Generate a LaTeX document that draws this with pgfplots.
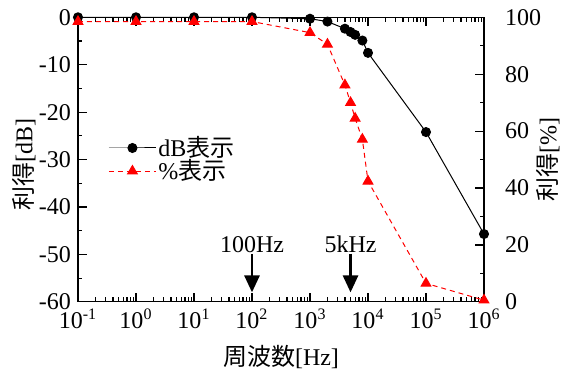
\documentclass[border=0pt]{standalone}
\usepackage{fontspec}
\setmainfont{Liberation Serif}
\newfontfamily\jp{Noto Sans CJK JP}
\usepackage{pgfplots}
\pgfplotsset{compat=1.18}
\usetikzlibrary{calc,arrows.meta}

\pgfplotstableread{
f     db
0.1   0
1     0
10    0
100   0
1000  -0.3
2000  -0.9
4000  -2.4
5000  -3.1
6000  -3.7
8000  -4.9
10000 -7.5
100000 -24.2
1000000 -45.7
}\dbdata

\pgfplotstableread{
f     pc
0.1   98.5
1     98.5
10    98.5
100   98.5
1000  94.6
2000  90.5
4000  76.2
5000  70.0
6000  64.5
8000  57.1
10000 42.4
100000 6.5
1000000 0.6
}\pcdata

\pgfplotsset{
  major tick length=4.5pt, minor tick length=2.2pt,
  tick style={draw=black, line width=0.6pt},
}

\begin{document}
\begin{tikzpicture}[font=\fontsize{12}{14}\selectfont]
\begin{axis}[
  scale only axis, width=203pt, height=142.3pt,
  xmode=log, xmin=0.1, xmax=1e6,
  ymin=-60, ymax=0,
  xtick pos=both, ytick pos=left,
  tick align=inside,
  axis line style={line width=0.6pt},
  /pgf/number format/assume math mode=true,
  xtick={0.1,1,10,100,1000,10000,100000,1000000},
  xticklabels={10\textsuperscript{-1},10\textsuperscript{0},10\textsuperscript{1},10\textsuperscript{2},10\textsuperscript{3},10\textsuperscript{4},10\textsuperscript{5},10\textsuperscript{6}},
  minor xtick={0.2,0.3,0.4,0.5,0.6,0.7,0.8,0.9,
    2,3,4,5,6,7,8,9,
    20,30,40,50,60,70,80,90,
    200,300,400,500,600,700,800,900,
    2000,3000,4000,5000,6000,7000,8000,9000,
    20000,30000,40000,50000,60000,70000,80000,90000,
    200000,300000,400000,500000,600000,700000,800000,900000},
  ytick={-60,-50,-40,-30,-20,-10,0},
  minor ytick={-55,-45,-35,-25,-15,-5},
  clip=false,
]
\pgfplotsinvokeforeach{1,10,100,1000,10000,100000}{
  \draw[line width=0.6pt] (axis cs:#1,-60) -- (axis cs:#1,-58.1);
  \draw[line width=0.6pt] (axis cs:#1,0) -- (axis cs:#1,-1.9);
}
\pgfplotsinvokeforeach{0.2,0.3,0.4,0.5,0.6,0.7,0.8,0.9,
    2,3,4,5,6,7,8,9,
    20,30,40,50,60,70,80,90,
    200,300,400,500,600,700,800,900,
    2000,3000,4000,5000,6000,7000,8000,9000,
    20000,30000,40000,50000,60000,70000,80000,90000,
    200000,300000,400000,500000,600000,700000,800000,900000}{
  \draw[line width=0.6pt] (axis cs:#1,-60) -- (axis cs:#1,-59.07);
  \draw[line width=0.6pt] (axis cs:#1,0) -- (axis cs:#1,-0.93);
}
\pgfplotsinvokeforeach{-50,-40,-30,-20,-10}{
  \draw[line width=0.6pt] (axis cs:0.1,#1) -- (axis cs:0.1429,#1);
}
\pgfplotsinvokeforeach{-55,-45,-35,-25,-15,-5}{
  \draw[line width=0.6pt] (axis cs:0.1,#1) -- (axis cs:0.1191,#1);
}
\pgfplotsinvokeforeach{-48,-36,-24,-12}{
  \draw[line width=0.6pt] (axis cs:1000000,#1) -- (axis cs:699800,#1);
}
\pgfplotsinvokeforeach{-54,-42,-30,-18,-6}{
  \draw[line width=0.6pt] (axis cs:1000000,#1) -- (axis cs:839600,#1);
}
\addplot[black, line width=0.5pt, mark=*, mark size=2.25pt] table[x=f,y=db] {\dbdata};
\coordinate (bl) at (rel axis cs:0,0);
\coordinate (tr) at (rel axis cs:1,1);
\draw[-{Triangle[length=8.5pt,width=7.5pt]}, line width=1.4pt] (axis cs:100,-49.9) -- (axis cs:100,-58.0);
\node[anchor=base] at (axis cs:100,-49.5) {100Hz};
\draw[-{Triangle[length=8.5pt,width=7.5pt]}, line width=1.4pt] (axis cs:5000,-49.9) -- (axis cs:5000,-58.0);
\node[anchor=base] at (axis cs:5000,-49.5) {5kHz};
\end{axis}
\begin{axis}[
  scale only axis, width=203pt, height=142.3pt,
  xmode=log, xmin=0.1, xmax=1e6,
  ymin=0, ymax=100,
  axis y line*=right,
  axis x line=none,
  tick align=inside,
  axis line style={line width=0.6pt},
  /pgf/number format/assume math mode=true,
  ytick={0,20,40,60,80,100},
  minor ytick={10,30,50,70,90},
  yticklabel style={xshift=7pt},
  legend style={draw=none, fill=none, at={(0.074,0.5)}, anchor=west, inner sep=0pt,
    nodes={inner sep=1pt}, row sep=-2pt},
  legend cell align=left,
  legend image code/.code={\draw[mark repeat=2,mark phase=2] plot coordinates {(0pt,0pt) (11.75pt,0pt) (23.5pt,0pt)};},
  clip=false,
]
\addlegendimage{black, line width=0.5pt, mark=*, mark size=2.25pt}
\addlegendentry{dB{\jp 表示}}
\addplot[red, line width=0.5pt, dash pattern=on 2.5pt off 2pt, mark=triangle*, mark size=2.8pt, mark options={solid}] table[x=f,y=pc] {\pcdata};
\addlegendentry{\%{\jp 表示}}
\end{axis}
\node[rotate=90] at ($(bl)!0.5!(bl|-tr)+(-27pt,-2.6pt)$) {{\jp 利得}[dB]};
\node[rotate=90] at ($(tr|-bl)!0.5!(tr)+(32pt,0)$) {{\jp 利得}[\%]};
\node at ($(bl)!0.5!(tr|-bl)+(0,-27.5pt)$) {{\jp 周波数}[Hz]};
\pgfresetboundingbox
\path[use as bounding box] ($(bl)+(-39pt,-33.5pt)$) rectangle ($(tr)+(39pt,8.65pt)$);
\end{tikzpicture}
\end{document}
